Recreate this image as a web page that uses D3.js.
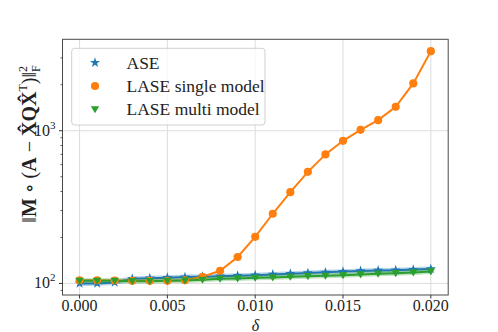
<!DOCTYPE html>
<html><head><meta charset="utf-8">
<script src="https://cdn.jsdelivr.net/npm/d3@7"></script>
<style>html,body{margin:0;padding:0;background:#fff;}svg{display:block;}</style>
</head><body>
<svg id="c" width="498" height="332"></svg>
<script>
const deltas = [0,0.001,0.002,0.003,0.004,0.005,0.006,0.007,0.008,0.009,0.010,0.011,0.012,0.013,0.014,0.015,0.016,0.017,0.018,0.019,0.020];
const ase = [100,100,101.5,107.5,108.3,109.1,110,110.8,111.6,112.5,113.3,114.5,115.9,117.1,118.2,119.5,120.7,121.7,122.2,123.3,124.5];
const laseSingle = [105,105,104.6,104,104,104,105,110.5,121,149,202,286,396,538,700,859,1014,1173,1434,2042,3320];
const laseMulti = [104,104,104,103.5,103.5,104,104.6,105.6,107.2,107.8,108.8,109.5,110.5,111.6,112.1,113.3,114.5,115.6,116.8,118,119.8];
const xTicks = [0,0.005,0.010,0.015,0.020];
const xTickLabels = ["0.000","0.005","0.010","0.015","0.020"];
const yTicks = [100,1000];
const yTickExp = ["2","3"];
const seriesNames = ["ASE","LASE single model","LASE multi model"];

const svg = d3.select("#c");
const L=62.5,R=448.2,T=39.3,B=295;
const x = d3.scaleLinear().domain([-0.001,0.021]).range([62,448.4]);
const y = d3.scaleLog().domain([84,3970]).range([B,T]);
const font = "'Liberation Serif','DejaVu Serif',serif";

// grid
const g = svg.append("g");
g.selectAll(".vg").data(xTicks).enter().append("line")
 .attr("x1",d=>x(d)).attr("x2",d=>x(d)).attr("y1",T).attr("y2",B)
 .attr("stroke","#dcdcdc").attr("stroke-width",1);
g.selectAll(".hg").data(yTicks).enter().append("line")
 .attr("y1",d=>y(d)).attr("y2",d=>y(d)).attr("x1",L).attr("x2",R)
 .attr("stroke","#dcdcdc").attr("stroke-width",1);

// series
const colors = ["#1f77b4","#ff7f0e","#2ca02c"];
const datas = [ase,laseSingle,laseMulti];
const line = d3.line().x((d,i)=>x(deltas[i])).y(d=>y(d));
datas.forEach((arr,k)=>{
  if(k!==1){
    svg.append("path").attr("d",line(arr)).attr("fill","none")
      .attr("stroke",colors[k]).attr("stroke-opacity",0.3).attr("stroke-width",5);
  }
  svg.append("path").attr("d",line(arr)).attr("fill","none")
    .attr("stroke",colors[k]).attr("stroke-width",2);
});
const sym = [d3.symbol().type(d3.symbolStar).size(32), d3.symbol().type(d3.symbolCircle).size(52), null];
function marker(sel,k,cx,cy){
  if(k===2){
    const s=4.2;
    sel.append("path").attr("d",`M${cx-s},${cy-s*0.75}L${cx+s},${cy-s*0.75}L${cx},${cy+s*0.95}Z`).attr("fill",colors[k]);
  } else {
    sel.append("path").attr("d",sym[k]()).attr("transform",`translate(${cx},${cy})`).attr("fill",colors[k]);
  }
}
datas.forEach((arr,k)=>{
  arr.forEach((v,i)=>marker(svg,k,x(deltas[i]),y(v)));
});

// frame
svg.append("rect").attr("x",L).attr("y",T).attr("width",R-L).attr("height",B-T)
 .attr("fill","none").attr("stroke","#4a4a4a").attr("stroke-width",1);

// x axis ticks
svg.selectAll(".xt").data(xTicks).enter().append("line")
 .attr("x1",d=>x(d)).attr("x2",d=>x(d)).attr("y1",B).attr("y2",B+3.5).attr("stroke","#333");
svg.selectAll(".xl").data(xTicks).enter().append("text")
 .attr("x",d=>x(d)).attr("y",B+16).attr("text-anchor","middle")
 .attr("font-family",font).attr("font-size",16).attr("fill","#222")
 .text((d,i)=>xTickLabels[i]);
svg.append("text").attr("x",(L+R)/2).attr("y",330.5).attr("text-anchor","middle")
 .attr("font-family",font).attr("font-style","italic").attr("font-size",16).attr("fill","#222").text("δ");

// y axis ticks
const minor=[];
[10,100,1000].forEach(b=>{for(let m=2;m<=9;m++){const v=b*m; if(v>84&&v<3970&&v!==100&&v!==1000) minor.push(v);}});
svg.selectAll(".ymn").data(minor).enter().append("line")
 .attr("x1",L).attr("x2",L-2).attr("y1",d=>y(d)).attr("y2",d=>y(d)).attr("stroke","#333").attr("stroke-width",0.8);
svg.selectAll(".ymj").data(yTicks).enter().append("line")
 .attr("x1",L).attr("x2",L-3.5).attr("y1",d=>y(d)).attr("y2",d=>y(d)).attr("stroke","#333");
yTicks.forEach((v,i)=>{
  const t=svg.append("text").attr("x",L-7).attr("y",y(v)+5).attr("text-anchor","end")
   .attr("font-family",font).attr("font-size",16).attr("fill","#222");
  t.append("tspan").text("10");
  t.append("tspan").attr("dy",-7).attr("font-size",11).text(yTickExp[i]);
});

// y label
const yl = svg.append("text").attr("transform","translate(36,144) rotate(-90)")
 .attr("text-anchor","middle").attr("font-family",font).attr("font-size",20).attr("fill","#222");
yl.append("tspan").text("‖");
yl.append("tspan").attr("font-weight","bold").text("M");
yl.append("tspan").text(" ∘ (");
yl.append("tspan").attr("font-weight","bold").text("A");
yl.append("tspan").text(" − ");
yl.append("tspan").attr("font-weight","bold").text("X̂QX̂");
yl.append("tspan").attr("dy",-9).attr("font-size",12).text("T");
yl.append("tspan").attr("dy",9).text(")‖");
yl.append("tspan").attr("dy",-9).attr("font-size",12).text("2");
yl.append("tspan").attr("dy",13).attr("dx",-6).attr("font-size",12).text("F");

// legend
const lg = svg.append("g");
lg.append("rect").attr("x",71.7).attr("y",48.3).attr("width",193.3).attr("height",76.7).attr("rx",3)
 .attr("fill","#fff").attr("fill-opacity",0.8).attr("stroke","#d0d0d0");
seriesNames.forEach((n,k)=>{
  const cy = 62.7 + k*23.3;
  marker(lg,k,95,cy);
  lg.append("text").attr("x",126.5).attr("y",cy+6).attr("font-family",font).attr("font-size",17.5)
   .attr("fill","#222").text(n);
});
</script>
</body></html>
